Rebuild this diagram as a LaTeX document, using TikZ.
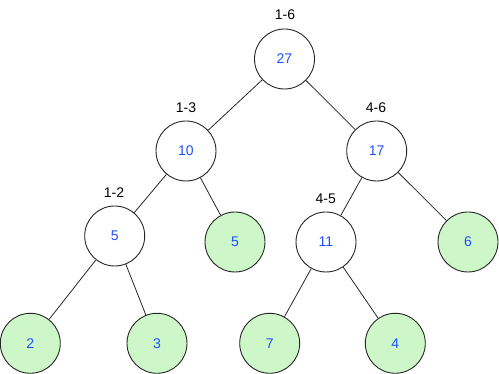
\documentclass[tikz,border=0pt]{standalone}
\usepackage{fontspec}
\setmainfont{Liberation Sans}
\definecolor{leafgreen}{HTML}{CDF7C8}
\definecolor{valblue}{HTML}{1F50FF}
\begin{document}
\begin{tikzpicture}[x=1pt,y=-1pt,
  treenode/.style={circle,draw=black!85,line width=0.9pt,fill=white,minimum size=60pt,inner sep=0pt,text=valblue,font=\fontsize{14}{16}\selectfont},
  leafnode/.style={treenode,fill=leafgreen},
  rangelabel/.style={font=\fontsize{14}{16}\selectfont,text=black,inner sep=0pt},
  edge/.style={draw=black!85,line width=0.8pt}]
\useasboundingbox (0,0) rectangle (499,374);
\node[treenode] (n27) at (284.5,59) {27};
\node[treenode] (n10) at (186,151) {10};
\node[treenode] (n17) at (376.7,151) {17};
\node[treenode] (n5w) at (114.7,236) {5};
\node[leafnode] (n5g) at (235,242) {5};
\node[treenode] (n11) at (326,242) {11};
\node[leafnode] (n6) at (468,242) {6};
\node[leafnode] (n2) at (30.3,343.3) {2};
\node[leafnode] (n3) at (157,343.3) {3};
\node[leafnode] (n7) at (269.7,343.3) {7};
\node[leafnode] (n4) at (395.3,343.3) {4};
\node[rangelabel] (l16) at (285,15) {1-6};
\node[rangelabel] (l13) at (186,107.5) {1-3};
\node[rangelabel] (l46) at (376,107.5) {4-6};
\node[rangelabel] (l12) at (114,192.5) {1-2};
\node[rangelabel] (l45) at (325.7,198.5) {4-5};
\draw[edge] (n27) -- (n10);
\draw[edge] (n27) -- (n17);
\draw[edge] (n10) -- (n5w);
\draw[edge] (n10) -- (n5g);
\draw[edge] (n17) -- (n11);
\draw[edge] (n17) -- (n6);
\draw[edge] (n5w) -- (n2);
\draw[edge] (n5w) -- (n3);
\draw[edge] (n11) -- (n7);
\draw[edge] (n11) -- (n4);
\end{tikzpicture}
\end{document}
